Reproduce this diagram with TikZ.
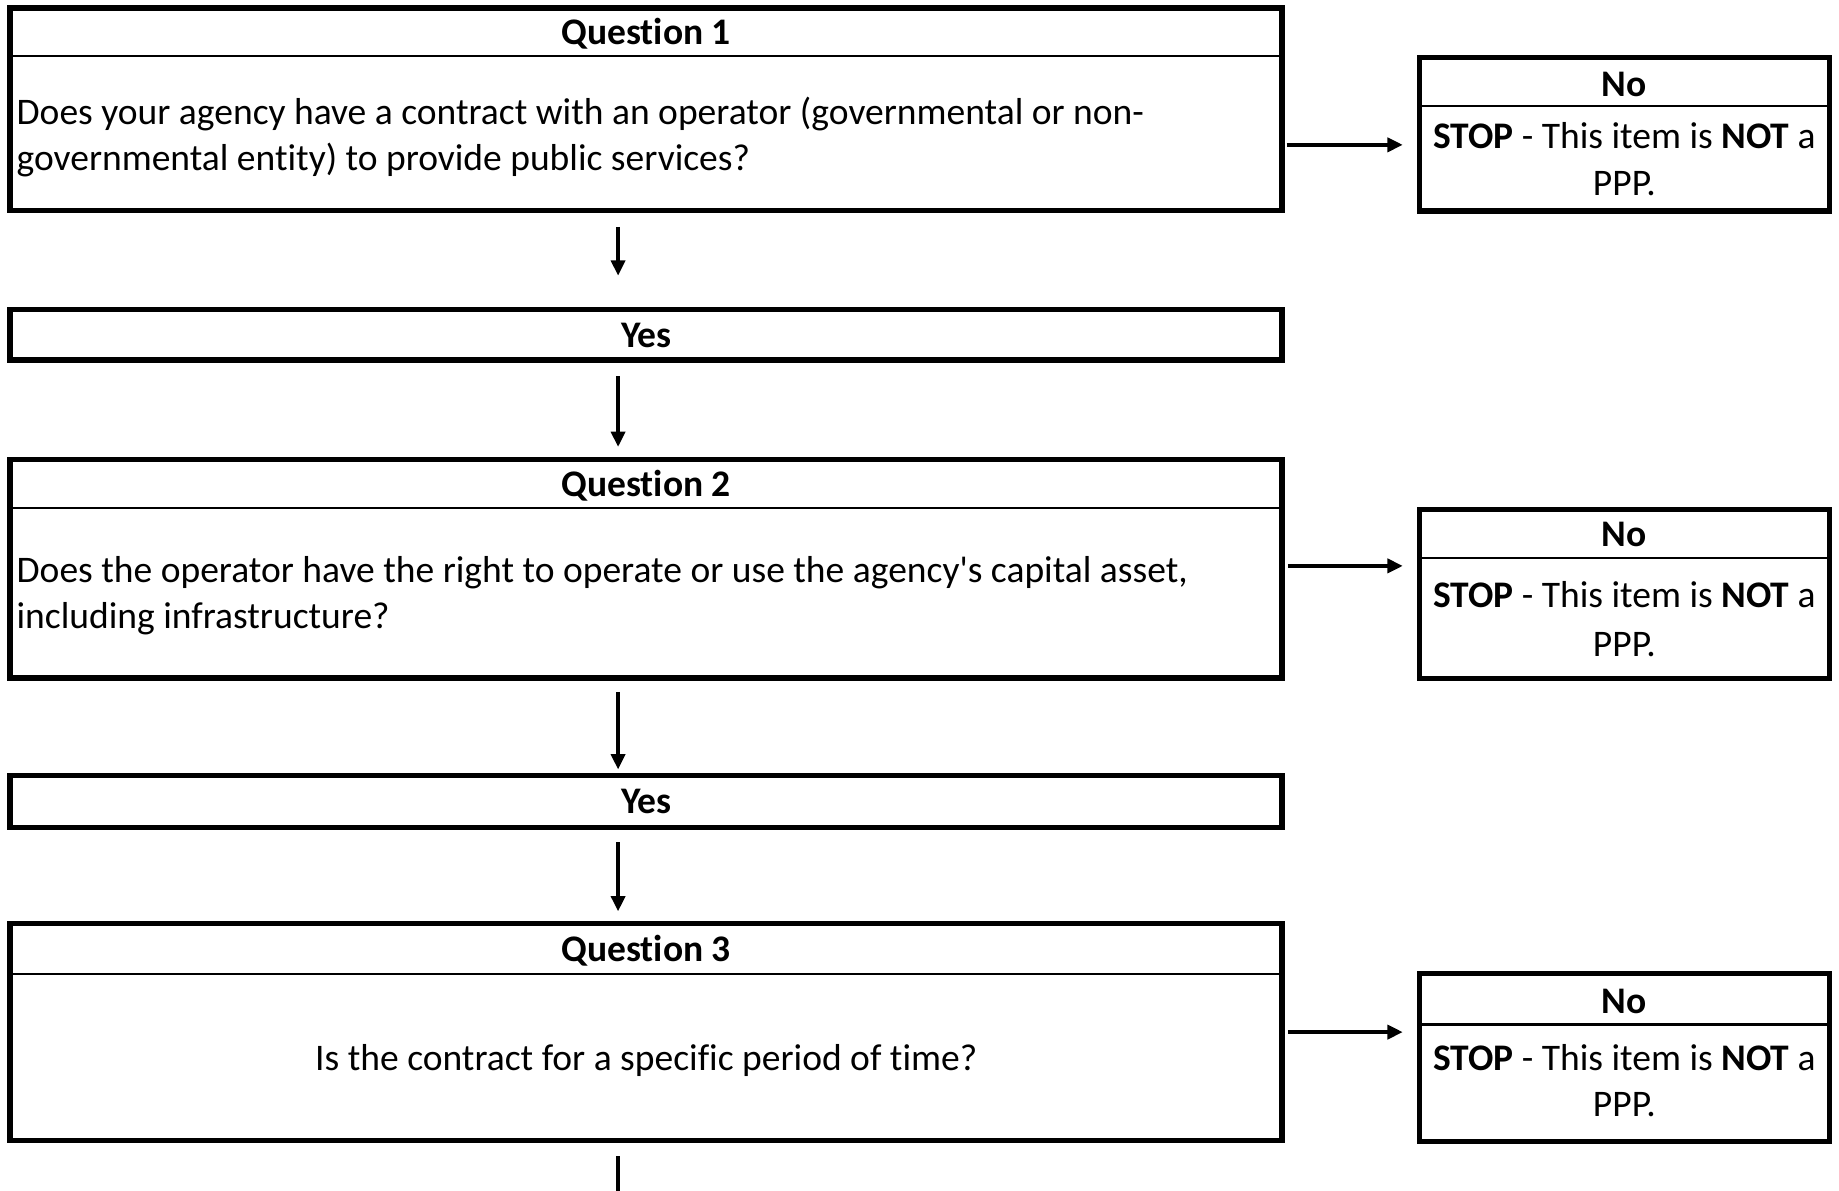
\documentclass[tikz,border=0pt]{standalone}
\usepackage{fontspec}
\setmainfont{Carlito}[Ligatures={TeXOff,CommonOff}]
\usetikzlibrary{arrows.meta}
\begin{document}
\begin{tikzpicture}[x=1pt,y=-1pt,
  box/.style={draw, line width=4.5pt, rectangle, inner sep=0pt},
  hdr/.style={line width=1.8pt},
  conn/.style={line width=3pt, -{Triangle[length=13pt,width=12pt]}},
  plain/.style={line width=3pt},
  txt/.style={font=\fontsize{32}{40}\selectfont, inner sep=0pt, anchor=base},
  ltxt/.style={txt, anchor=base west, align=left}
]
\useasboundingbox (0,0) rectangle (1568,1015);

% Question 1
\node[box, minimum width=1084.5pt, minimum height=172.5pt] (q1) at (550.75,93) {};
\draw[hdr] (8.5,48) -- (1093,48);
\node[txt] (q1h) at (551,38) {\textbf{Question 1}};
\node[ltxt] (q1t1) at (14,106) {Does your agency have a contract with an operator (governmental or non-};
\node[ltxt] (q1t2) at (14,145) {governmental entity) to provide public services?};

\node[box, minimum width=350pt, minimum height=131pt] (n1) at (1385,114.5) {};
\draw[hdr] (1210,90) -- (1560,90);
\node[txt] (n1h) at (1385,82) {\textbf{No}};
\node[txt] (n1t1) at (1385,127) {\textbf{STOP} - This item is \textbf{NOT} a};
\node[txt] (n1t2) at (1385,167) {PPP.};

\coordinate (a1s) at (1097,123.5);
\coordinate (a1e) at (1196,123.5);
\draw[conn] (a1s) -- (a1e);

% Yes 1
\coordinate (d1s) at (527,193.5);
\coordinate (d1e) at (527,235);
\draw[conn] (d1s) -- (d1e);
\node[box, minimum width=1084.5pt, minimum height=43pt] (y1) at (550.75,285.5) {};
\node[txt] (y1t) at (551,296) {\textbf{Yes}};
\coordinate (d2s) at (527,321);
\coordinate (d2e) at (527,381);
\draw[conn] (d2s) -- (d2e);

% Question 2
\node[box, minimum width=1084.5pt, minimum height=186pt] (q2) at (550.75,485) {};
\draw[hdr] (8.5,433.5) -- (1093,433.5);
\node[txt] (q2h) at (551,423) {\textbf{Question 2}};
\node[ltxt] (q2t1) at (14,497) {Does the operator have the right to operate or use the agency's capital asset,};
\node[ltxt] (q2t2) at (14,536) {including infrastructure?};

\node[box, minimum width=350pt, minimum height=144pt] (n2) at (1385,506.5) {};
\draw[hdr] (1210,475.5) -- (1560,475.5);
\node[txt] (n2h) at (1385,466) {\textbf{No}};
\node[txt] (n2t1) at (1385,518) {\textbf{STOP} - This item is \textbf{NOT} a};
\node[txt] (n2t2) at (1385,560) {PPP.};

\coordinate (a2s) at (1098,482.5);
\coordinate (a2e) at (1196,482.5);
\draw[conn] (a2s) -- (a2e);

% Yes 2
\coordinate (d3s) at (527,590);
\coordinate (d3e) at (527,656);
\draw[conn] (d3s) -- (d3e);
\node[box, minimum width=1084.5pt, minimum height=44pt] (y2) at (550.75,683.5) {};
\node[txt] (y2t) at (551,694) {\textbf{Yes}};
\coordinate (d4s) at (527,718);
\coordinate (d4e) at (527,777);
\draw[conn] (d4s) -- (d4e);

% Question 3
\node[box, minimum width=1084.5pt, minimum height=185pt] (q3) at (550.75,880) {};
\draw[hdr] (8.5,830.5) -- (1093,830.5);
\node[txt] (q3h) at (551,820) {\textbf{Question 3}};
\node[txt] (q3t) at (551,913) {Is the contract for a specific period of time?};

\node[box, minimum width=350pt, minimum height=143pt] (n3) at (1385,901.5) {};
\draw[hdr] (1210,873.5) -- (1560,873.5);
\node[txt] (n3h) at (1385,864) {\textbf{No}};
\node[txt] (n3t1) at (1385,913) {\textbf{STOP} - This item is \textbf{NOT} a};
\node[txt] (n3t2) at (1385,952) {PPP.};

\coordinate (a3s) at (1098,880);
\coordinate (a3e) at (1196,880);
\draw[conn] (a3s) -- (a3e);

% continuing line
\coordinate (d5s) at (527,986);
\coordinate (d5e) at (527,1016);
\draw[plain] (d5s) -- (d5e);
\end{tikzpicture}
\end{document}
